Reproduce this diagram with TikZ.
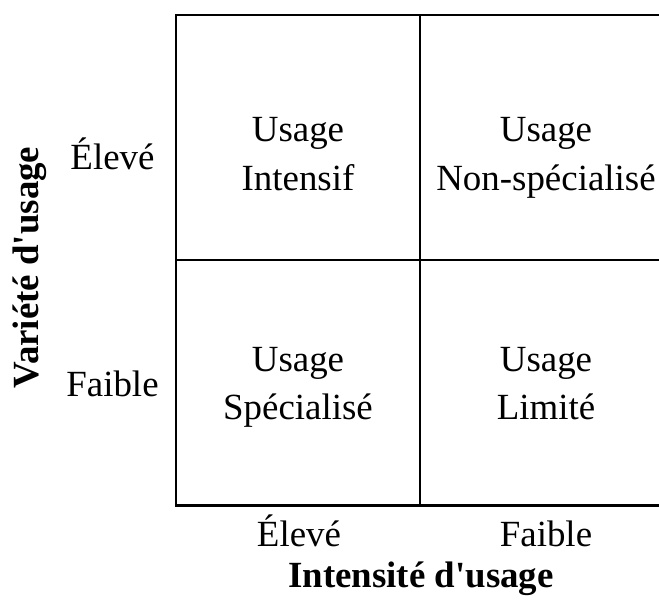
\documentclass[tikz,border=0pt]{standalone}
\usepackage{fontspec}
\setmainfont{Liberation Serif}
\usepackage{tikz}
\usetikzlibrary{positioning,calc}

\begin{document}
\begin{tikzpicture}[
    cell/.style={align=center, anchor=north, inner sep=0pt, font=\fontsize{21}{27.6}\selectfont},
    level/.style={anchor=base, inner sep=0pt, font=\fontsize{21}{27.6}\selectfont},
    axis/.style={inner sep=0pt, font=\fontsize{21}{27.6}\selectfont\bfseries}]
    \useasboundingbox (0,0) rectangle (13.18,12.12);
    % grid, right edge runs off the page
    \coordinate (tl) at (3.52,11.82);
    \coordinate (ml) at (3.52,6.92);
    \coordinate (bl) at (3.52,2.01);
    \coordinate (tm) at (8.40,11.82);
    \coordinate (bm) at (8.40,2.01);
    \draw[line width=1.3pt] (13.18,11.82) -- (tl) -- (bl) -- (13.18,2.01);
    \draw[line width=1.3pt] (ml) -- (13.18,6.92);
    \draw[line width=1.3pt] (tm) -- (bm);
    % cells
    \node[cell] (intensif) at (5.96,9.774) {Usage\\Intensif};
    \node[cell] (nonspec) at (10.92,9.774) {Usage\\Non-spécialisé};
    \node[cell] (spec) at (5.96,5.186) {Usage\\Spécialisé};
    \node[cell] (limite) at (10.92,5.186) {Usage\\Limité};
    % levels
    \node[level] (vhaut) at (2.25,8.72) {Élevé};
    \node[level] (vbas) at (2.25,4.186) {Faible};
    \node[level] (ihaut) at (5.98,1.18) {Élevé};
    \node[level] (ibas) at (10.92,1.18) {Faible};
    % axis titles
    \node[axis, anchor=base] (intensite) at (8.42,0.36) {Intensité d\textquotesingle usage};
    \node[axis, rotate=90] (variete) at (0.6,6.77) {Variété d\textquotesingle usage};
\end{tikzpicture}
\end{document}
